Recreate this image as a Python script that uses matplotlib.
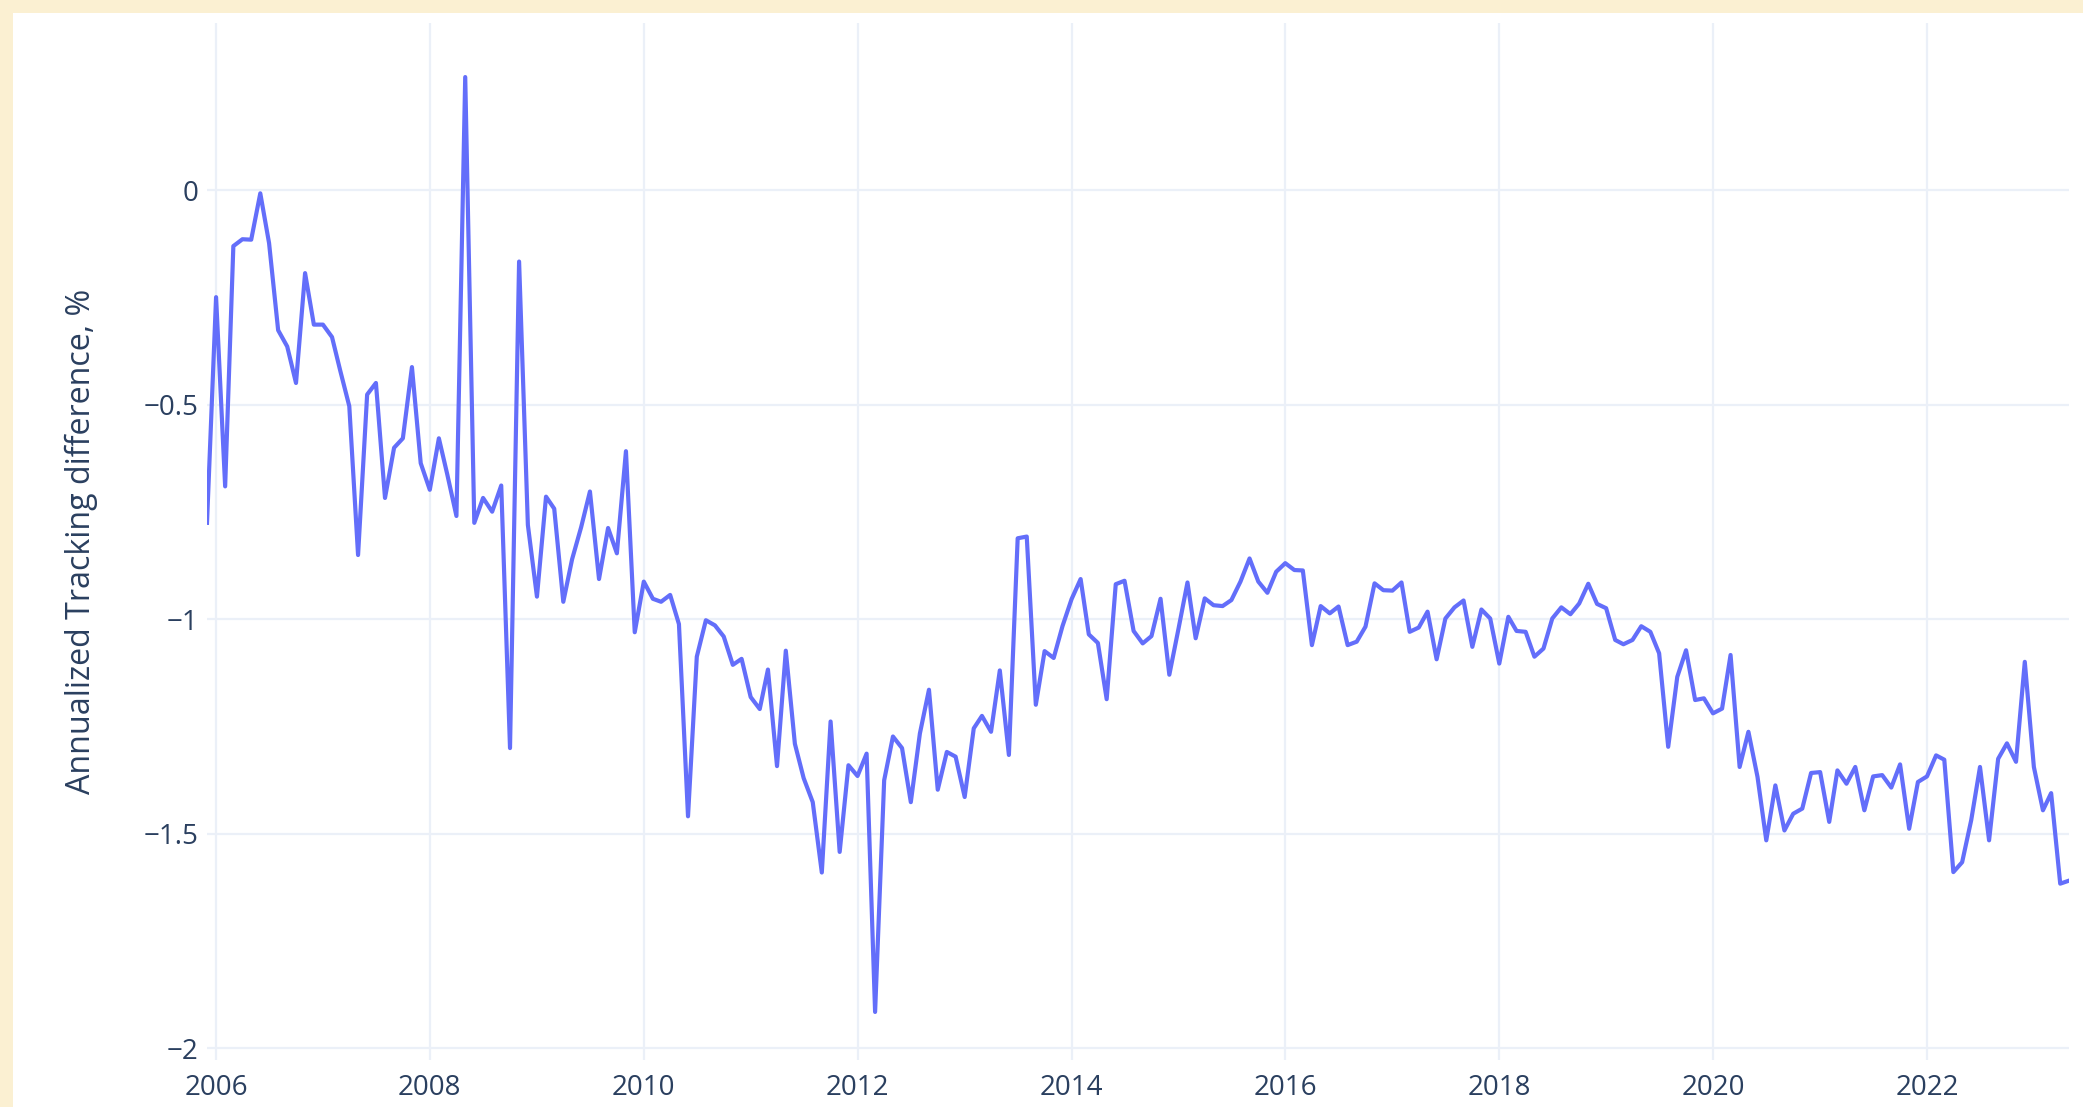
import matplotlib
matplotlib.use("Agg")
import matplotlib.pyplot as plt
import matplotlib.dates as mdates
from matplotlib.patches import Rectangle
from matplotlib.ticker import FuncFormatter
import pandas as pd

plt.rcParams.update({
    "font.family": ["Open Sans", "DejaVu Sans"],
    "font.size": 20,
})

# monthly observations, Dec 2005 .. May 2023
start_month = "2005-12-01"
tracking_diff = [
    -0.775,                                                                                    # 2005-12
    -0.249, -0.690, -0.130, -0.114, -0.115, -0.007, -0.123, -0.326, -0.364, -0.449, -0.193, -0.313,  # 2006
    -0.313, -0.342, -0.420, -0.503, -0.850, -0.476, -0.449, -0.717, -0.600, -0.578, -0.412, -0.636,  # 2007
    -0.698, -0.578, -0.663, -0.759, 0.264, -0.775, -0.717, -0.749, -0.688, -1.300, -0.166, -0.780,   # 2008
    -0.947, -0.714, -0.742, -0.959, -0.860, -0.785, -0.702, -0.906, -0.787, -0.846, -0.608, -1.030,  # 2009
    -0.912, -0.952, -0.959, -0.943, -1.011, -1.459, -1.087, -1.002, -1.014, -1.040, -1.106, -1.092,  # 2010
    -1.181, -1.209, -1.117, -1.342, -1.073, -1.290, -1.370, -1.426, -1.590, -1.238, -1.542, -1.340,  # 2011
    -1.365, -1.313, -1.915, -1.375, -1.273, -1.300, -1.426, -1.266, -1.164, -1.397, -1.309, -1.320,  # 2012
    -1.414, -1.254, -1.225, -1.262, -1.119, -1.316, -0.811, -0.807, -1.199, -1.074, -1.090, -1.016,  # 2013
    -0.953, -0.906, -1.035, -1.055, -1.186, -0.918, -0.910, -1.027, -1.056, -1.039, -0.952, -1.129,  # 2014
    -1.023, -0.914, -1.044, -0.951, -0.967, -0.969, -0.955, -0.912, -0.858, -0.912, -0.938, -0.889,  # 2015
    -0.869, -0.885, -0.886, -1.060, -0.969, -0.986, -0.970, -1.060, -1.052, -1.017, -0.916, -0.932,  # 2016
    -0.933, -0.914, -1.029, -1.019, -0.982, -1.093, -0.998, -0.972, -0.956, -1.064, -0.977, -0.998,  # 2017
    -1.103, -0.994, -1.027, -1.029, -1.087, -1.068, -0.998, -0.972, -0.988, -0.963, -0.917, -0.964,  # 2018
    -0.974, -1.048, -1.058, -1.048, -1.016, -1.029, -1.079, -1.297, -1.134, -1.072, -1.188, -1.184,  # 2019
    -1.219, -1.208, -1.083, -1.344, -1.262, -1.367, -1.515, -1.387, -1.492, -1.453, -1.441, -1.358,  # 2020
    -1.356, -1.472, -1.352, -1.383, -1.344, -1.445, -1.366, -1.363, -1.392, -1.338, -1.488, -1.379,  # 2021
    -1.366, -1.317, -1.327, -1.589, -1.566, -1.468, -1.344, -1.515, -1.325, -1.289, -1.332, -1.099,  # 2022
    -1.344, -1.445, -1.405, -1.616, -1.609,                                                          # 2023
]
y_ticks = [0, -0.5, -1, -1.5, -2]
y_title = "Annualized Tracking difference, %"

dates = pd.date_range(start_month, periods=len(tracking_diff), freq="MS")

line_col = "#636efa"
grid_col = "#ebf0f8"
text_col = "#2a3f5f"
beige = "#fbf0d2"

fig = plt.figure(figsize=(20.83, 11.07), dpi=100, facecolor=beige)
# white card on the beige page (drawn below the axes)
fig.add_artist(Rectangle((13 / 2083, 0), 1, 1 - 13 / 1107, transform=fig.transFigure,
                         facecolor="white", edgecolor="none", zorder=-10))

ax = fig.add_axes([207 / 2083, 1 - 1060 / 1107, (2069 - 207) / 2083, (1060 - 23) / 1107])
ax.set_zorder(1)
ax.set_facecolor("white")
ax.plot(dates, tracking_diff, color=line_col, lw=3.0, solid_joinstyle="round", zorder=3)

ax.set_xlim(dates[0], dates[-1])
ax.set_ylim(-2.027, 0.39)
ax.set_yticks(y_ticks)
ax.yaxis.set_major_formatter(FuncFormatter(lambda v, p: f"{v:g}".replace("-", "\u2212")))
ax.xaxis.set_major_locator(mdates.YearLocator(2))
ax.xaxis.set_major_formatter(mdates.DateFormatter("%Y"))

ax.grid(True, color=grid_col, lw=1.6)
ax.set_axisbelow(True)
for s in ax.spines.values():
    s.set_visible(False)
ax.tick_params(length=0, labelcolor=text_col, labelsize=20)
ax.tick_params(axis="y", pad=6)
ax.tick_params(axis="x", pad=10)

ax.set_ylabel(y_title, color=text_col, fontsize=23.2)
ax.yaxis.set_label_coords((98 - 207) / 1862, 0.5)

fig.savefig("out.png", dpi=100, facecolor=beige)
